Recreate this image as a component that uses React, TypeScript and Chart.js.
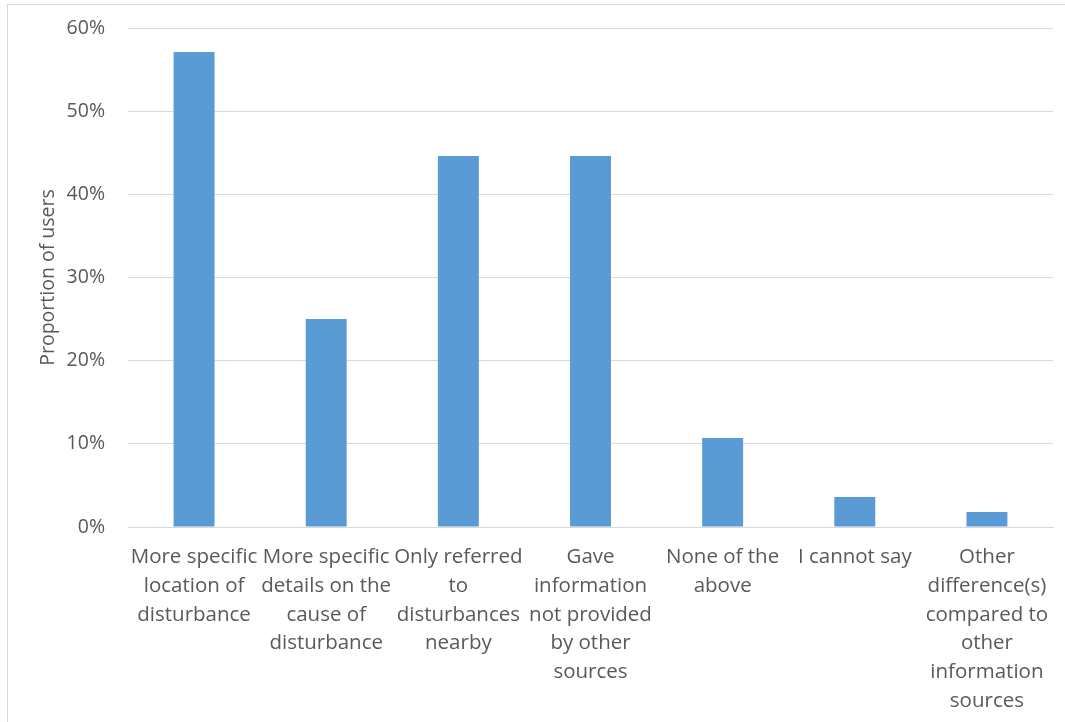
import React, { useEffect, useRef } from "react";
import { Chart, registerables } from "chart.js";

Chart.register(...registerables);

const categories: string[][] = [
  ["More specific", "location of", "disturbance"],
  ["More specific", "details on the", "cause of", "disturbance"],
  ["Only referred", "to", "disturbances", "nearby"],
  ["Gave", "information", "not provided", "by other", "sources"],
  ["None of the", "above"],
  ["I cannot say"],
  ["Other", "difference(s)", "compared to", "other", "information", "sources"],
];

const proportionValues: number[] = [57.1, 25.0, 44.6, 44.6, 10.7, 3.6, 1.8];

const yTickValues: number[] = [0, 10, 20, 30, 40, 50, 60];

const yAxisTitle = "Proportion of users";

const FONT = "'Open Sans', 'Noto Sans', sans-serif";
const TEXT = "#595959";
const GRID = "#d9d9d9";
const BAR = "#5b9bd5";

export default function App() {
  const canvasRef = useRef<HTMLCanvasElement | null>(null);

  useEffect(() => {
    if (!canvasRef.current) return;
    const chart = new Chart(canvasRef.current, {
      type: "bar",
      data: {
        labels: categories,
        datasets: [
          {
            label: yAxisTitle,
            data: proportionValues,
            backgroundColor: BAR,
            borderWidth: 0,
            barPercentage: 0.31,
            categoryPercentage: 1,
          },
        ],
      },
      options: {
        animation: false,
        responsive: true,
        maintainAspectRatio: false,
        layout: { padding: { left: 0, right: 12, top: 28, bottom: 0 } },
        plugins: {
          legend: { display: false },
          tooltip: { enabled: false },
        },
        scales: {
          x: {
            grid: { display: false, drawTicks: false },
            border: { display: true, color: GRID, width: 1 },
            ticks: {
              color: TEXT,
              font: { family: FONT, size: 20.5, lineHeight: 1.4 },
              maxRotation: 0,
              minRotation: 0,
              autoSkip: false,
              padding: 16,
            },
            afterFit: (scale: any) => {
              scale.height = 195;
              scale.paddingLeft = 0;
              scale.paddingRight = 0;
            },
          },
          y: {
            min: 0,
            max: 60,
            afterBuildTicks: (scale: any) => {
              scale.ticks = yTickValues.map((v) => ({ value: v }));
            },
            grid: { color: GRID, lineWidth: 1, drawTicks: false },
            border: { display: false },
            ticks: {
              color: TEXT,
              font: { family: FONT, size: 19.5 },
              padding: 23,
              callback: (v: any) => `${v}%`,
            },
            title: {
              display: true,
              text: yAxisTitle,
              color: TEXT,
              font: { family: FONT, size: 19.5 },
              padding: { top: 37, bottom: 0 },
            },
            afterFit: (scale: any) => {
              scale.width = 128;
              scale.paddingTop = 0;
              scale.paddingBottom = 0;
            },
          },
        },
      },
    });
    return () => chart.destroy();
  }, []);

  return (
    <div
      style={{
        position: "fixed",
        left: 0,
        top: 0,
        width: 1065,
        height: 722,
        overflow: "hidden",
        background: "#ffffff",
      }}
    >
      <div
        style={{
          position: "absolute",
          left: 7,
          top: 4,
          width: 1100,
          height: 800,
          border: `1px solid ${GRID}`,
        }}
      />
      <div style={{ position: "absolute", left: 0, top: 0, width: 1065, height: 722 }}>
        <canvas ref={canvasRef} />
      </div>
    </div>
  );
}
